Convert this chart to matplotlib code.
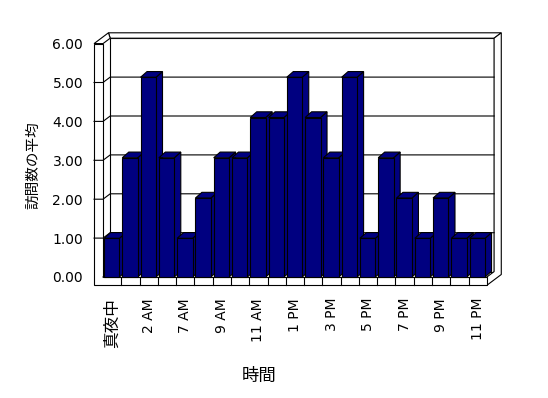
import matplotlib
matplotlib.use("Agg")
import matplotlib.pyplot as plt
from matplotlib.patches import Polygon

plt.rcParams['font.family'] = ['DejaVu Sans', 'Noto Sans CJK JP']

# data
hours = ['真夜中', '1 AM', '2 AM', '6 AM', '7 AM', '8 AM', '9 AM', '10 AM',
         '11 AM', '正午', '1 PM', '2 PM', '3 PM', '4 PM', '5 PM', '6 PM',
         '7 PM', '8 PM', '9 PM', '10 PM', '11 PM']
visits = [1, 3, 5, 3, 1, 2, 3, 3, 4, 4, 5, 4, 3, 5, 1, 3, 2, 1, 2, 1, 1]
y_ticks = [0, 1, 2, 3, 4, 5, 6]
x_title = '時間'
y_title = '訪問数の平均'

BAR_COLOR = '#000080'
LW = 0.8

# layout of the front plane in pixels (excel style 3d box)
W, H = 548, 398
X0_PX, CAT_PX = 103.0, 18.28
Y0_PX, UNIT_PX = 277.0, 38.9
DX, DY = 7.2 / CAT_PX, 5.4 / UNIT_PX     # one step back in depth
BDX, BDY = 6.5 / CAT_PX, 5.7 / UNIT_PX   # depth of a column
BAR_K, BAR_OFF = 1.035, -0.04            # columns come out a bit taller
WALL = 0.49
FLOOR = 0.213

n = len(visits)
top = max(y_ticks)
xlim = (-WALL, n + 2 * DX)
ylim = (-FLOOR, top + 2 * DY)

fig = plt.figure(figsize=(W / 100, H / 100), dpi=100)
left_px = X0_PX + CAT_PX * xlim[0]
right_px = X0_PX + CAT_PX * xlim[1]
bot_px = Y0_PX - UNIT_PX * ylim[0]
top_px = Y0_PX - UNIT_PX * ylim[1]
ax = fig.add_axes([left_px / W, 1 - bot_px / H,
                   (right_px - left_px) / W, (bot_px - top_px) / H])
ax.set_xlim(*xlim)
ax.set_ylim(*ylim)
for s in ax.spines.values():
    s.set_visible(False)


def poly(pts, fc='white', z=1):
    ax.add_patch(Polygon(pts, closed=True, fc=fc, ec='black', lw=LW,
                         zorder=z, clip_on=False, joinstyle='miter'))


def line(pts, z=2):
    xs = [p[0] for p in pts]
    ys = [p[1] for p in pts]
    ax.plot(xs, ys, color='black', lw=LW, zorder=z, clip_on=False)


# back wall
poly([(DX, DY), (n + DX, DY), (n + DX, top + DY), (DX, top + DY)])
poly([(DX, top + DY), (n + DX, top + DY), (n + 2 * DX, top + 2 * DY),
      (-WALL + 2 * DX, top + 2 * DY)])
poly([(-WALL, top), (0, top), (DX, top + DY), (-WALL + 2 * DX, top + 2 * DY)])
# right side
poly([(n, -FLOOR), (n + 2 * DX, -FLOOR + 2 * DY), (n + 2 * DX, top + 2 * DY),
      (n + DX, top + DY), (n + DX, DY), (n, 0)])
# left wall front + floor front
poly([(-WALL, -FLOOR), (n, -FLOOR), (n, 0), (0, 0), (0, top), (-WALL, top)])
for i in range(1, n):
    line([(i, -FLOOR), (i, 0)])

# gridlines round the left wall and back wall
for v in y_ticks[:-1]:
    if v == 0:
        line([(0, 0), (DX, DY)])
        continue
    line([(-WALL, v), (0, v), (DX, v + DY), (n + DX, v + DY)])

# columns
for i, v in enumerate(visits):
    l, r = i + 0.055, i + 0.9
    t = BAR_K * v + BAR_OFF
    z = 3 + i
    poly([(r, 0), (r, t), (r + BDX, t + BDY), (r + BDX, BDY)], BAR_COLOR, z)
    poly([(l, t), (r, t), (r + BDX, t + BDY), (l + BDX, t + BDY)], BAR_COLOR, z)
    poly([(l, 0), (r, 0), (r, t), (l, t)], BAR_COLOR, z)

ax.set_yticks(y_ticks)
ax.set_yticklabels(['%.2f' % v for v in y_ticks])
ax.set_xticks([i + 0.5 for i in range(0, n, 2)])
ax.set_xticklabels(hours[::2], rotation=90)
ax.tick_params(axis='y', length=0, pad=7.9, labelsize=10)
ax.tick_params(axis='x', length=0, pad=9.1, labelsize=10)
ax.get_xticklabels()[0].set_fontsize(12)

ax.set_xlabel(x_title, fontsize=12.5)
ax.xaxis.set_label_coords(8.53, -2.545, transform=ax.transData)
ax.xaxis.label.set_va('center')
ax.set_ylabel(y_title, fontsize=10.5)
ax.yaxis.set_label_coords(-3.83, 2.88, transform=ax.transData)
ax.yaxis.label.set_va('center')

fig.savefig('out.png', dpi=100)
